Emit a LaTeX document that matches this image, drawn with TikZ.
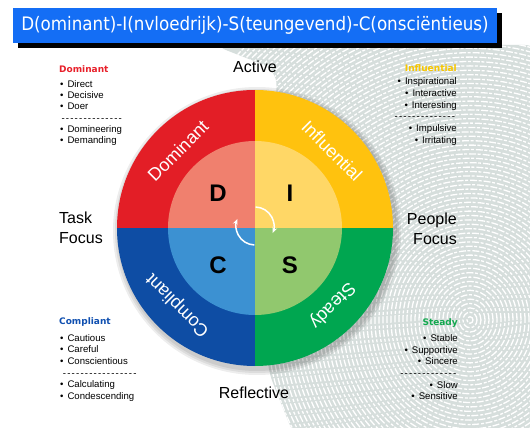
\documentclass[tikz,border=0pt]{standalone}
\usepackage{fontspec}
\setmainfont{Liberation Sans}
\newfontfamily\bannerfont{DejaVu Sans Condensed}
\newfontfamily\headfont{DejaVu Sans}
\usepackage{tikz}
\usetikzlibrary{arrows.meta}
\definecolor{bannerblue}{HTML}{146EF5}
\definecolor{print}{HTML}{D6DEDC}
\definecolor{dred}{HTML}{E31E26}
\definecolor{dredin}{HTML}{F0806E}
\definecolor{iyellow}{HTML}{FFC20E}
\definecolor{iyellowin}{HTML}{FFD766}
\definecolor{sgreen}{HTML}{00A650}
\definecolor{sgreenin}{HTML}{91C86E}
\definecolor{cblue}{HTML}{0E4DA4}
\definecolor{cbluein}{HTML}{3C91D2}
\definecolor{dhead}{HTML}{E8202A}
\definecolor{ihead}{HTML}{F7C600}
\definecolor{chead}{HTML}{0F4FB0}
\definecolor{shead}{HTML}{12A84E}
\newcommand{\bul}{\textbullet\hspace{4pt}}
\newcommand{\dashrow}[1]{\hbox to #1{\cleaders\hbox{\kern.6pt-\kern.6pt}\hfill}}
\tikzset{
  >={Stealth[length=6pt,width=5pt]},
  ridge/.style={draw=white,line width=1.3pt,dash pattern=on 7pt off 2pt on 3pt off 1.5pt},
  banner/.style={fill=bannerblue,text=white,minimum width=484pt,minimum height=35pt,
                 inner sep=0,font=\bannerfont\fontsize{18.6}{20}\selectfont},
  seglabel/.style={text=white,font=\fontsize{18}{18}\selectfont},
  letter/.style={font=\fontsize{24}{24}\selectfont\bfseries},
  axis/.style={font=\fontsize{16}{20}\selectfont,inner sep=0},
  head/.style={font=\headfont\fontsize{9}{10}\selectfont\bfseries,inner sep=0},
  item/.style={font=\fontsize{9.6}{10}\selectfont,inner sep=0,text height=6.8pt,text depth=1.6pt},
  spin/.style={->,draw=white,line width=1.5pt},
}
\begin{document}
\begin{tikzpicture}[x=1pt,y=1pt]
  \useasboundingbox (-255,-200) rectangle (275,228);
  \fill[white] (-255,-200) rectangle (275,228);

  % fingerprint in the background
  \begin{scope}
    \clip[rounded corners=15pt] (-42,183) -- (285,183) -- (285,-210) -- (40,-210)
      -- (12,-140) -- (22,158) -- cycle;
    \fill[print] (-45,190) rectangle (290,-215);
    \foreach \r in {3,7,...,335}
      \draw[ridge] (215,-92) ellipse [x radius=\r pt, y radius={1.1*\r pt}];
  \end{scope}

  % banner
  \fill[black] (-237,180) rectangle (247,215);
  \node[banner] (title) at (0,202.5) {D(ominant)-I(nvloedrijk)-S(teungevend)-C(onsciëntieus)};

  % wheel
  \foreach \s in {144,142,140}
    \fill[black,opacity=.07] (2,-3) circle (\s pt);
  \begin{scope}
    \clip (0,0) circle (138pt);
    \fill[dred] (-140,0) rectangle (0,140);
    \fill[iyellow] (0,0) rectangle (140,140);
    \fill[sgreen] (0,0) rectangle (140,-140);
    \fill[cblue] (-140,0) rectangle (0,-140);
  \end{scope}
  \begin{scope}
    \clip (0,0) circle (87pt);
    \fill[dredin] (-90,0) rectangle (0,90);
    \fill[iyellowin] (0,0) rectangle (90,90);
    \fill[sgreenin] (0,0) rectangle (90,-90);
    \fill[cbluein] (-90,0) rectangle (0,-90);
  \end{scope}

  \node[seglabel,rotate=45] (dlabel) at (135:109pt) {Dominant};
  \node[seglabel,rotate=-45] (ilabel) at (45:109pt) {Influential};
  \node[seglabel,rotate=-135] (slabel) at (-45:109pt) {Steady};
  \node[seglabel,rotate=135] (clabel) at (-135:109pt) {Compliant};

  \node[letter] (dletter) at (-37,35) {D};
  \node[letter] (iletter) at (35,35) {I};
  \node[letter] (cletter) at (-37,-37) {C};
  \node[letter] (sletter) at (35,-37) {S};

  \coordinate (hub) at (0,2);
  \draw[spin] ([shift={(88:19pt)}]hub) arc[start angle=88,end angle=-22,radius=19pt];
  \draw[spin] ([shift={(-92:19pt)}]hub) arc[start angle=-92,end angle=-202,radius=19pt];

  % axes
  \node[axis] (active) at (0,161) {Active};
  \node[axis] (reflective) at (-1,-165) {Reflective};
  \node[axis,align=left,anchor=west] (task) at (-196,0) {Task\\Focus};
  \node[axis,align=right,anchor=east] (people) at (202,-1) {People\\Focus};

  % lists
  \node[head,text=dhead,anchor=west] (dhead) at (-196,159) {Dominant};
  \foreach \txt [count=\i from 0] in {\bul Direct,\bul Decisive,\bul Doer,\dashrow{63pt},\bul Domineering,\bul Demanding}
    \node[item,anchor=west] (d\i) at (-195,143-11.2*\i) {\txt};

  \node[head,text=ihead,anchor=east] (ihead) at (202,160) {Influential};
  \foreach \txt [count=\i from 0] in {\bul Inspirational,\bul Interactive,\bul Interesting,\dashrow{64pt},\bul Impulsive,\bul Irritating}
    \node[item,anchor=east] (i\i) at (202,146-11.8*\i) {\txt};

  \node[head,text=chead,anchor=west] (chead) at (-196,-94) {Compliant};
  \foreach \txt [count=\i from 0] in {\bul Cautious,\bul Careful,\bul Conscientious,\dashrow{79pt},\bul Calculating,\bul Condescending}
    \node[item,anchor=west] (c\i) at (-195,-110.5-11.7*\i) {\txt};

  \node[head,text=shead,anchor=east] (shead) at (203,-95) {Steady};
  \foreach \txt [count=\i from 0] in {\bul Stable,\bul Supportive,\bul Sincere,\dashrow{59pt},\bul Slow,\bul Sensitive}
    \node[item,anchor=east] (s\i) at (203,-111-11.6*\i) {\txt};
\end{tikzpicture}
\end{document}
